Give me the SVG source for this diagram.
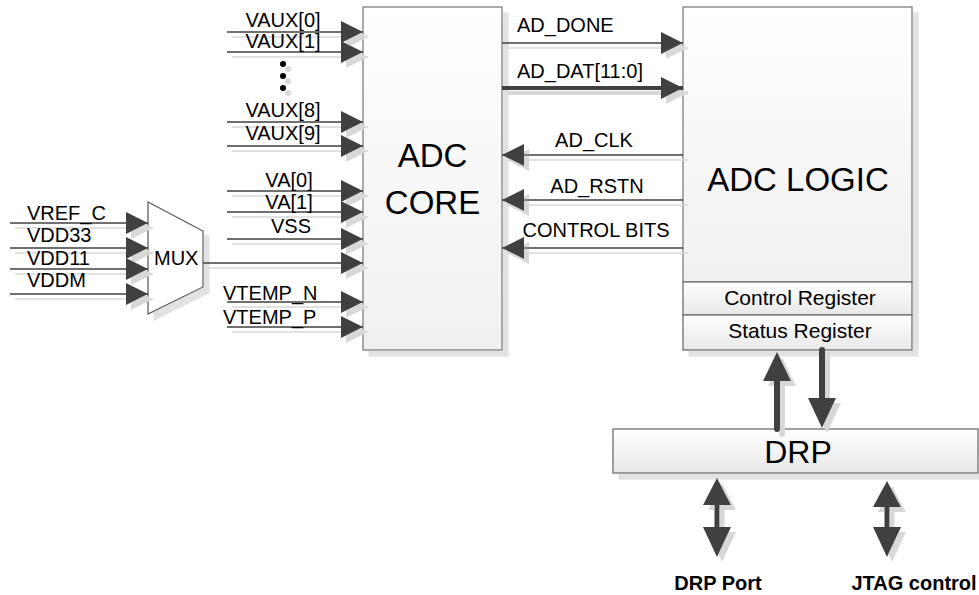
<svg xmlns="http://www.w3.org/2000/svg" width="979" height="595" viewBox="0 0 979 595">
<defs>
<linearGradient id="boxg" x1="0" y1="0" x2="0" y2="1">
<stop offset="0" stop-color="#ffffff"/>
<stop offset="1" stop-color="#f0f0f0"/>
</linearGradient>
<linearGradient id="regg" x1="0" y1="0" x2="0" y2="1">
<stop offset="0" stop-color="#ffffff"/>
<stop offset="1" stop-color="#e8e8e8"/>
</linearGradient>
<filter id="sh" filterUnits="userSpaceOnUse" x="0" y="0" width="979" height="595">
<feOffset in="SourceAlpha" dx="5" dy="5" result="o"/>
<feGaussianBlur in="o" stdDeviation="0.6" result="b"/>
<feFlood flood-color="#d8d8d8"/>
<feComposite in2="b" operator="in" result="s"/>
<feMerge><feMergeNode in="s"/><feMergeNode in="SourceGraphic"/></feMerge>
</filter>
<filter id="bsh" filterUnits="userSpaceOnUse" x="0" y="0" width="979" height="595">
<feOffset in="SourceAlpha" dx="6" dy="6" result="o"/>
<feFlood flood-color="#e2e2e2"/>
<feComposite in2="o" operator="in" result="s"/>
<feMerge><feMergeNode in="s"/><feMergeNode in="SourceGraphic"/></feMerge>
</filter>
<marker id="ah" markerUnits="userSpaceOnUse" markerWidth="22" markerHeight="22" viewBox="0 0 20 20" refX="20" refY="10" orient="auto">
<path d="M0,0 L20,10 L0,20 Z" fill="#404040"/>
</marker>
</defs>
<style>
.box{fill:url(#boxg);stroke:#7f7f7f;stroke-width:1.3}
.reg{fill:url(#regg);stroke:#6f6f6f;stroke-width:1.3}
.t{font-family:"Liberation Sans",Arial,sans-serif;font-size:20px;fill:#000}
.rt{font-family:"Liberation Sans",Arial,sans-serif;font-size:21px;fill:#000}
.big{font-family:"Liberation Sans",Arial,sans-serif;font-size:33px;fill:#000}
.bold{font-family:"Liberation Sans",Arial,sans-serif;font-size:20px;font-weight:bold;fill:#000}
.w{stroke:#404040;stroke-width:1.3;fill:none;marker-end:url(#ah)}
.bus{stroke:#404040;stroke-width:4;fill:none;marker-end:url(#ah)}
.fat{stroke:#404040;stroke-width:6;stroke-linecap:round;fill:none}
.mid{stroke:#404040;stroke-width:5;fill:none}
.hd{fill:#404040}
</style>

<g id="adc-core">
<rect class="box" x="363" y="7" width="139" height="343" filter="url(#bsh)"/>
<text class="big" x="432.5" y="167" text-anchor="middle">ADC</text>
<text class="big" x="432.5" y="214" text-anchor="middle">CORE</text>
</g>

<g id="adc-logic">
<g filter="url(#bsh)">
<rect class="box" x="683" y="7" width="229" height="275"/>
<rect class="reg" x="683" y="282" width="229" height="33"/>
<rect class="reg" x="683" y="315" width="229" height="35"/>
</g>
<text class="big" x="798" y="191" text-anchor="middle">ADC LOGIC</text>
<text class="rt" x="800" y="305" text-anchor="middle">Control Register</text>
<text class="rt" x="800" y="338" text-anchor="middle">Status Register</text>
</g>

<g id="mux">
<polygon points="148,202 203,231 203,287 148,314" fill="#ffffff" stroke="#555555" stroke-width="1.2" filter="url(#bsh)"/>
<text class="t" x="154" y="265">MUX</text>
</g>

<g id="drp">
<rect class="reg" x="613" y="429" width="365" height="44" filter="url(#bsh)"/>
<text class="big" x="798" y="463" text-anchor="middle" style="font-size:32px">DRP</text>
</g>

<g id="drp-port">
<text class="bold" x="718" y="590" text-anchor="middle">DRP Port</text>
</g>
<g id="jtag-control">
<text class="bold" x="914" y="590" text-anchor="middle">JTAG control</text>
</g>

<g id="connectors" filter="url(#sh)">
<line class="w" x1="227" y1="32" x2="363" y2="32"/>
<line class="w" x1="227" y1="52" x2="363" y2="52"/>
<line class="w" x1="227" y1="122" x2="363" y2="122"/>
<line class="w" x1="227" y1="146" x2="363" y2="146"/>
<line class="w" x1="227" y1="191" x2="363" y2="191"/>
<line class="w" x1="227" y1="212" x2="363" y2="212"/>
<line class="w" x1="227" y1="239" x2="363" y2="239"/>
<line class="w" x1="203" y1="263" x2="363" y2="263"/>
<line class="w" x1="227" y1="302" x2="363" y2="302"/>
<line class="w" x1="227" y1="327" x2="363" y2="327"/>
<line class="w" x1="10" y1="223" x2="148" y2="223"/>
<line class="w" x1="10" y1="248" x2="148" y2="248"/>
<line class="w" x1="10" y1="269" x2="148" y2="269"/>
<line class="w" x1="10" y1="294" x2="148" y2="294"/>
<line class="w" x1="502" y1="43" x2="683" y2="43"/>
<line class="bus" x1="502" y1="88" x2="683" y2="88"/>
<line class="w" x1="683" y1="155" x2="502" y2="155"/>
<line class="w" x1="683" y1="200" x2="502" y2="200"/>
<line class="w" x1="683" y1="248" x2="502" y2="248"/>
<circle cx="283" cy="64" r="3" fill="#000"/>
<circle cx="283" cy="76" r="3" fill="#000"/>
<circle cx="283" cy="88" r="3" fill="#000"/>
<line class="fat" x1="777" y1="429" x2="777" y2="378"/>
<polygon class="hd" points="777,352 763,381 791,381"/>
<line class="fat" x1="822" y1="350" x2="822" y2="400"/>
<polygon class="hd" points="808,398 836,398 822,428"/>
<line class="mid" x1="717" y1="503" x2="717" y2="529"/>
<polygon class="hd" points="717,478 703,505 731,505"/>
<polygon class="hd" points="703,527 731,527 717,557"/>
<line class="mid" x1="887" y1="505" x2="887" y2="529"/>
<polygon class="hd" points="887,481 873,507 901,507"/>
<polygon class="hd" points="873,527 901,527 887,557"/>
</g>

<g id="labels">
<text class="t" x="283" y="27" text-anchor="middle">VAUX[0]</text>
<text class="t" x="283" y="48" text-anchor="middle">VAUX[1]</text>
<text class="t" x="283" y="117" text-anchor="middle">VAUX[8]</text>
<text class="t" x="283" y="140" text-anchor="middle">VAUX[9]</text>
<text class="t" x="289" y="187" text-anchor="middle">VA[0]</text>
<text class="t" x="289" y="209" text-anchor="middle">VA[1]</text>
<text class="t" x="291" y="233" text-anchor="middle">VSS</text>
<text class="t" x="223" y="300">VTEMP_N</text>
<text class="t" x="223" y="324">VTEMP_P</text>
<text class="t" x="27" y="220">VREF_C</text>
<text class="t" x="27" y="242">VDD33</text>
<text class="t" x="27" y="265">VDD11</text>
<text class="t" x="27" y="287">VDDM</text>
<text class="t" x="517" y="32">AD_DONE</text>
<text class="t" x="517" y="78">AD_DAT[11:0]</text>
<text class="t" x="594" y="147" text-anchor="middle">AD_CLK</text>
<text class="t" x="597" y="193" text-anchor="middle">AD_RSTN</text>
<text class="t" x="596" y="237" text-anchor="middle">CONTROL BITS</text>
</g>
</svg>
